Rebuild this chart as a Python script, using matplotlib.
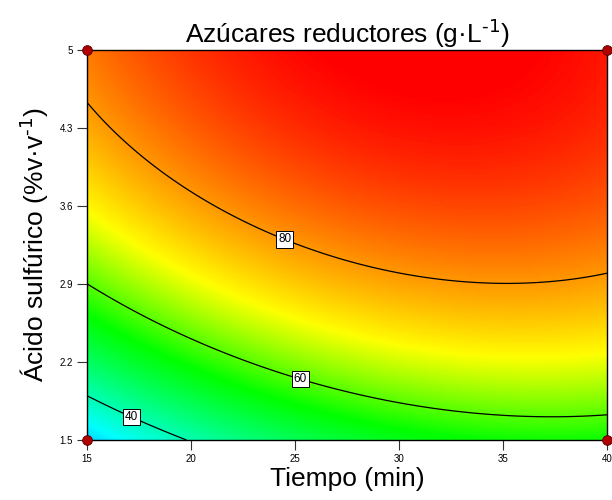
import numpy as np
import matplotlib
matplotlib.use("Agg")
import matplotlib.pyplot as plt
from matplotlib.colors import LinearSegmentedColormap, Normalize

plt.rcParams['font.family'] = ['Liberation Sans', 'DejaVu Sans']
plt.rcParams['mathtext.default'] = 'regular'

# Factor levels (tick positions)
tiempo = [15, 20, 25, 30, 35, 40]
acido = [1.5, 2.2, 2.9, 3.6, 4.3, 5.0]
# Estimated response (reducing sugars, g/L) at grid nodes; rows = acido, cols = tiempo
azucares = [
    [31.0, 37.5, 48.6, 53.4, 55.6, 55.5],
    [47.0, 56.5, 63.1, 67.3, 69.0, 68.4],
    [60.3, 68.8, 74.9, 78.5, 79.8, 78.5],
    [70.5, 78.5, 84.0, 87.1, 87.8, 86.0],
    [78.0, 85.4, 90.4, 93.0, 93.1, 90.8],
    [82.8, 89.7, 94.1, 96.1, 95.7, 92.9],
]
contour_levels = [40, 60, 80]
design_x = [15, 15, 40, 40]
design_y = [1.5, 5.0, 1.5, 5.0]

# Fit quadratic response surface to the grid values
X, Y = np.meshgrid(tiempo, acido)
Z = np.array(azucares)
def basis(x, y):
    a = (np.asarray(x) - 27.5) / 12.5
    b = (np.asarray(y) - 3.25) / 1.75
    return np.stack([np.ones_like(a), a, b, a*a, b*b, a*b], axis=-1)
coef, *_ = np.linalg.lstsq(basis(X.ravel(), Y.ravel()), Z.ravel(), rcond=None)

xf = np.linspace(15, 40, 300)
yf = np.linspace(1.5, 5.0, 300)
XF, YF = np.meshgrid(xf, yf)
ZF = basis(XF, YF) @ coef

vmin, vmax = 15, 95
nodes = [(0.0, (0, 0, 1)), ((34-vmin)/(vmax-vmin), (0, 1, 1)),
         ((55-vmin)/(vmax-vmin), (0, 1, 0)), ((70-vmin)/(vmax-vmin), (1, 1, 0)),
         (1.0, (1, 0, 0))]
cmap = LinearSegmentedColormap.from_list('de', nodes)

fig = plt.figure(figsize=(6.12, 5.0), dpi=100)
ax = fig.add_axes([87/612, 60/500, 520/612, 390/500])
ax.pcolormesh(XF, YF, ZF, cmap=cmap, norm=Normalize(vmin, vmax), shading='gouraud')
cs = ax.contour(XF, YF, ZF, levels=contour_levels, colors='black', linewidths=0.9)
labels = ax.clabel(cs, fmt='%d', fontsize=8.5, inline=False,
                   manual=[(17.3, 1.77), (25.3, 2.07), (24.5, 3.3)])
for t in labels:
    t.set_rotation(0)
    t.set_bbox(dict(facecolor='white', edgecolor='black', pad=1.5, linewidth=0.7))
    t.set_zorder(5)

ax.plot(design_x, design_y, 'o', ms=7, mfc='#b00000', mec='#500000', mew=0.6,
        clip_on=False, zorder=10)

ax.set_xlim(15, 40)
ax.set_ylim(1.5, 5.0)
ax.set_xticks(tiempo)
ax.set_yticks(acido)
ax.set_yticklabels(['1.5', '2.2', '2.9', '3.6', '4.3', '5'])
ax.tick_params(direction='out', length=7, width=0.8, labelsize=7, pad=3, color='#333333')
for s in ax.spines.values():
    s.set_linewidth(1.0)

ax.set_xlabel('Tiempo (min)', fontsize=19, labelpad=2)
ax.set_ylabel('Ácido sulfúrico (%v·v$^{\\text{-1}}$)', fontsize=19, labelpad=6)
ax.set_title('Azúcares reductores (g·L$^{\\text{-1}}$)', fontsize=19, pad=4)

fig.savefig('out.png', dpi=100)
